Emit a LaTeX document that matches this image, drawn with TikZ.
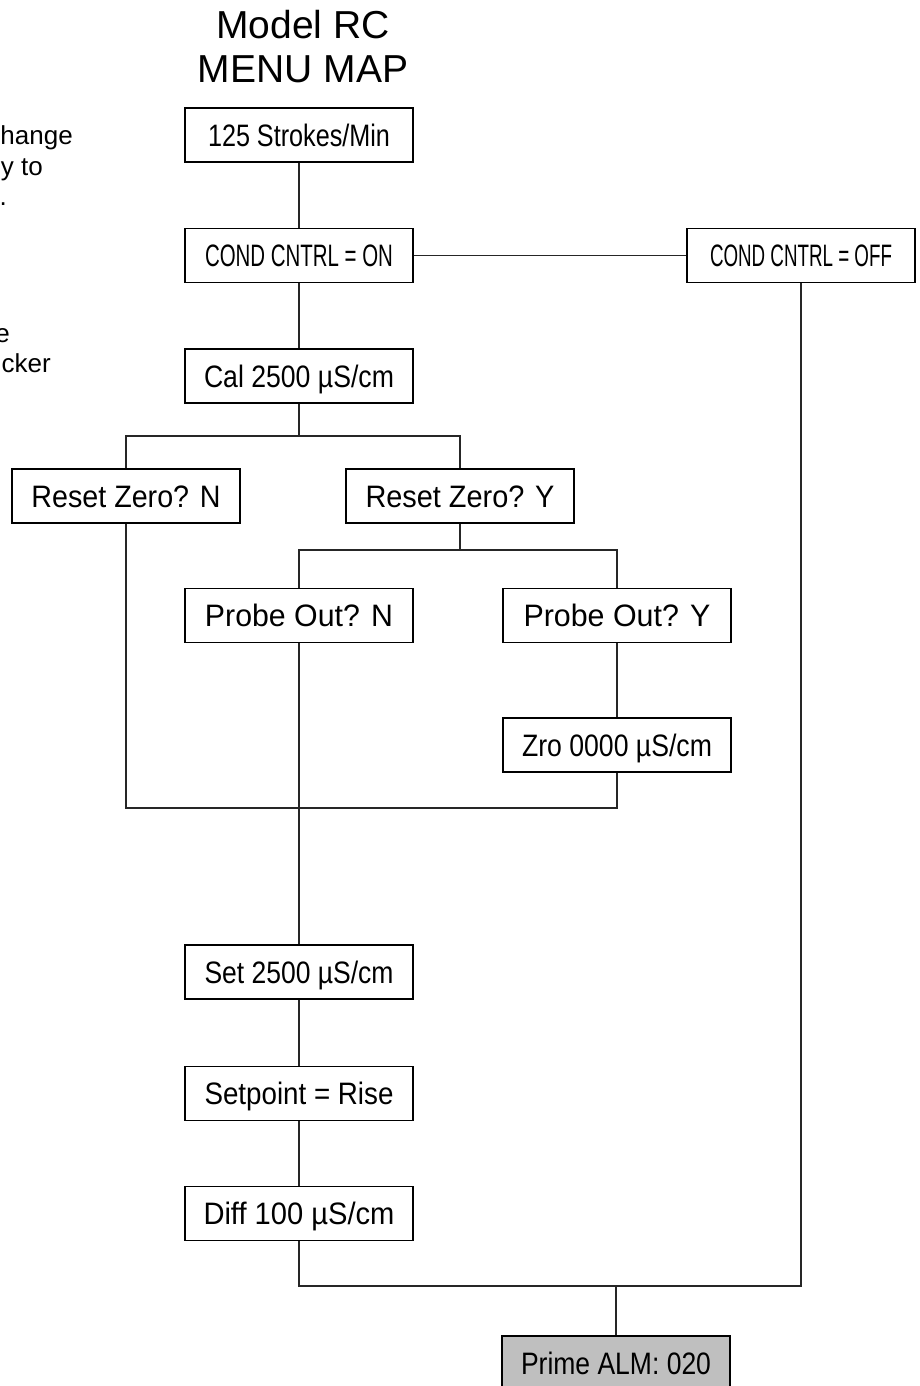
\documentclass[tikz,border=0pt]{standalone}
\usepackage{fontspec}
\usepackage{graphicx}
\setmainfont{Liberation Sans}
\newcommand\fitw[2]{\resizebox{#1pt}{\height}{#2}}
\tikzset{
  menubox/.style={draw=black, line width=1.2pt, fill=white, minimum width=228pt, minimum height=54pt,
    inner sep=0pt, text height=22.2pt, text depth=0pt, font=\fontsize{31}{37}\selectfont},
  graybox/.style={menubox, fill=black!25},
  link/.style={draw=black!85, line width=1.1pt},
  titletext/.style={inner sep=0pt, anchor=base, font=\fontsize{39}{46}\selectfont},
  sidetext/.style={inner sep=0pt, anchor=base east, font=\fontsize{26}{30}\selectfont}
}
\begin{document}
\begin{tikzpicture}[x=1pt, y=-1pt]
\useasboundingbox (0,0) rectangle (919,1386);
\clip (0,0) rectangle (919,1386);
\fill[white] (0,0) rectangle (919,1386);

% title
\node[titletext] (t1) at (303,39) {Model RC};
\node[titletext] (t2) at (303,83) {MENU MAP};

% side text, cut by the left edge as in the reference
\node[sidetext] (s1) at (73,145) {hange};
\node[sidetext] (s2) at (43,175) {y to};
\node[sidetext] (s3) at (7,205) {.};
\node[sidetext] (s4) at (10,342) {e};
\node[sidetext] (s5) at (51,372) {cker};

% bus coordinates
\coordinate (b1) at (299,436);
\coordinate (b2) at (460,550);
\coordinate (b3) at (299,808);
\coordinate (b4) at (616,1286);

% boxes
\node[menubox] (s125) at (299,135) {\fitw{182}{125 Strokes/Min}};
\node[menubox] (on) at (299,255.5) {\fitw{188}{COND CNTRL = ON}};
\node[menubox] (off) at (801,255.5) {\fitw{182}{COND CNTRL = OFF}};
\node[menubox] (cal) at (299,376) {\fitw{190}{Cal 2500 µS/cm}};
\node[menubox] (rzn) at (126,496) {\fitw{189}{Reset Zero? N}};
\node[menubox] (rzy) at (460,496) {\fitw{189}{Reset Zero? Y}};
\node[menubox] (pon) at (299,615.5) {\fitw{188}{Probe Out? N}};
\node[menubox] (poy) at (617,615.5) {\fitw{187}{Probe Out? Y}};
\node[menubox] (zro) at (617,745) {\fitw{190}{Zro 0000 µS/cm}};
\node[menubox] (set) at (299,972) {\fitw{189}{Set 2500 µS/cm}};
\node[menubox] (spr) at (299,1093.5) {\fitw{189}{Setpoint = Rise}};
\node[menubox] (dif) at (299,1213.5) {\fitw{191}{Diff 100 µS/cm}};
\node[graybox] (prime) at (616,1363) {\fitw{190}{Prime ALM: 020}};

% connectors
\path[link] (s125.south) -- (on.north);
\path[link] (on.east) -- (off.west);
\path[link] (on.south) -- (cal.north);
\path[link] (cal.south) -- (b1);
\path[link] (rzn.north) |- (b1) -| (rzy.north);
\path[link] (rzy.south) -- (b2);
\path[link] (pon.north) |- (b2) -| (poy.north);
\path[link] (poy.south) -- (zro.north);
\path[link] (rzn.south) |- (b3) -| (zro.south);
\path[link] (pon.south) -- (set.north);
\path[link] (set.south) -- (spr.north);
\path[link] (spr.south) -- (dif.north);
\path[link] (dif.south) |- (b4) -| (off.south);
\path[link] (b4) -- (prime.north);
\end{tikzpicture}
\end{document}
